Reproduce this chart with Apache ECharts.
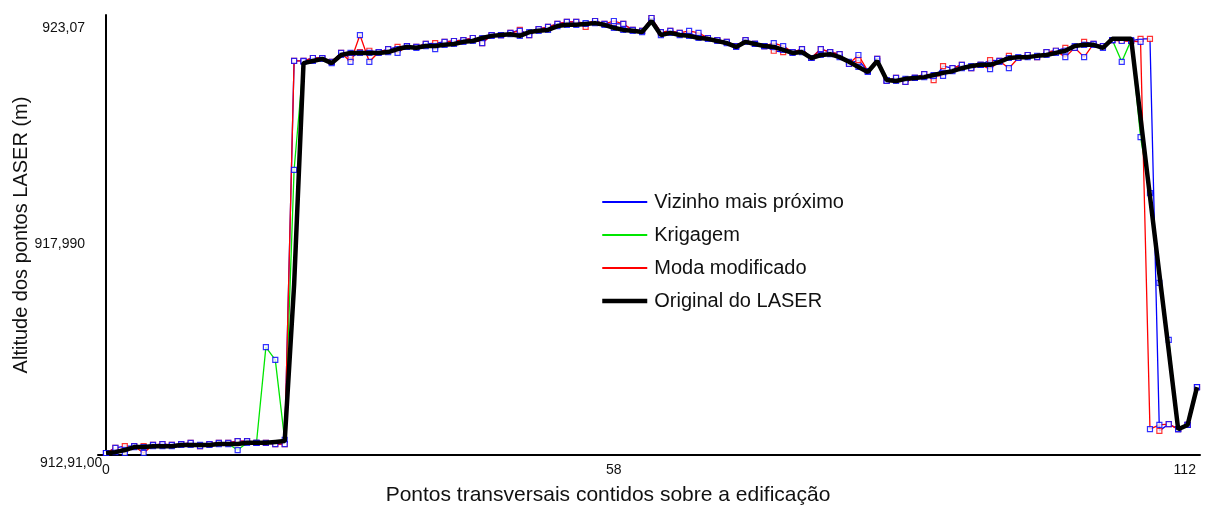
<!DOCTYPE html>
<html>
<head>
<meta charset="utf-8">
<title>Altitude dos pontos LASER</title>
<script src="https://cdn.jsdelivr.net/npm/echarts@6/dist/echarts.min.js"></script>
<style>
  html, body { margin: 0; padding: 0; background: #fff; }
  #chart { width: 1208px; height: 509px; }
</style>
</head>
<body>
<div id="chart"></div>
<script>
  var original = [
    912.91, 912.93, 912.98, 913.05, 913.05, 913.07, 913.07, 913.07, 913.10, 913.10,
    913.10, 913.10, 913.12, 913.12, 913.12, 913.15, 913.15, 913.15, 913.17, 913.19,
    916.86, 922.08, 922.13, 922.18, 922.08, 922.27, 922.32, 922.32, 922.32, 922.32,
    922.34, 922.41, 922.46, 922.44, 922.48, 922.48, 922.51, 922.53, 922.58, 922.60,
    922.67, 922.72, 922.74, 922.76, 922.72, 922.81, 922.84, 922.86, 922.95, 922.98,
    922.98, 923.00, 923.02, 922.98, 922.91, 922.86, 922.84, 922.81, 923.07, 922.74,
    922.79, 922.74, 922.72, 922.67, 922.65, 922.60, 922.55, 922.46, 922.58, 922.53,
    922.48, 922.46, 922.39, 922.32, 922.34, 922.20, 922.27, 922.29, 922.22, 922.11,
    921.99, 921.87, 922.13, 921.68, 921.66, 921.71, 921.73, 921.75, 921.80, 921.85,
    921.89, 921.96, 922.01, 922.04, 922.04, 922.11, 922.20, 922.22, 922.22, 922.25,
    922.27, 922.32, 922.37, 922.48, 922.51, 922.51, 922.44, 922.65, 922.65, 922.65,
    920.79, 918.95, 917.12, 915.31, 913.47, 913.57, 914.46
  ]
  var vizinho = [
    912.91, 913.03, 913.07, 913.07, 913.07, 913.10, 913.12, 913.10, 913.12, 913.15,
    913.07, 913.12, 913.15, 913.15, 913.19, 913.19, 913.15, 913.15, 913.12, 913.12,
    922.13, 922.13, 922.20, 922.20, 922.11, 922.32, 922.20, 922.34, 922.37, 922.34,
    922.41, 922.46, 922.48, 922.46, 922.53, 922.55, 922.58, 922.60, 922.62, 922.67,
    922.55, 922.74, 922.74, 922.79, 922.86, 922.74, 922.88, 922.93, 923.00, 923.05,
    923.05, 922.93, 923.07, 923.00, 923.00, 923.00, 922.86, 922.84, 923.14, 922.81,
    922.84, 922.79, 922.76, 922.72, 922.67, 922.62, 922.58, 922.48, 922.62, 922.53,
    922.48, 922.37, 922.34, 922.34, 922.41, 922.20, 922.41, 922.34, 922.29, 922.06,
    922.15, 921.89, 922.18, 921.66, 921.73, 921.64, 921.73, 921.82, 921.68, 922.01,
    921.96, 922.04, 921.96, 922.04, 922.15, 922.13, 922.25, 922.20, 922.27, 922.22,
    922.34, 922.37, 922.44, 922.44, 922.58, 922.53, 922.48, 922.62, 922.62, 922.60,
    922.65, 922.65, 913.43, 913.59, 913.47, 913.57, 914.46
  ]
  var krigagem = [
    912.91, 912.93, 912.98, 913.05, 913.05, 913.07, 913.07, 913.07, 913.10, 913.10,
    913.10, 913.10, 913.12, 913.12, 912.98, 913.15, 913.15, 915.40, 915.10, 913.22,
    919.57, 922.11, 922.13, 922.18, 922.08, 922.27, 922.32, 922.32, 922.32, 922.32,
    922.34, 922.41, 922.46, 922.44, 922.48, 922.48, 922.51, 922.53, 922.58, 922.60,
    922.67, 922.72, 922.74, 922.76, 922.72, 922.81, 922.84, 922.86, 922.95, 922.98,
    922.98, 923.00, 923.02, 922.98, 922.91, 922.86, 922.84, 922.81, 923.07, 922.74,
    922.79, 922.74, 922.72, 922.67, 922.65, 922.60, 922.55, 922.46, 922.58, 922.53,
    922.48, 922.46, 922.39, 922.32, 922.34, 922.20, 922.27, 922.29, 922.22, 922.11,
    921.99, 921.87, 922.13, 921.68, 921.66, 921.71, 921.73, 921.75, 921.80, 921.85,
    921.89, 921.96, 922.01, 922.04, 922.04, 922.11, 922.20, 922.22, 922.22, 922.25,
    922.27, 922.32, 922.37, 922.48, 922.51, 922.51, 922.44, 922.62, 922.11, 922.62,
    920.34, 919.02, 916.91, 915.57, 913.47, 913.57, 914.46
  ]
  var moda = [
    912.91, 913.03, 912.91, 913.07, 912.91, 913.10, 913.12, 913.10, 913.12, 913.15,
    913.07, 913.12, 913.15, 913.15, 913.19, 913.19, 913.15, 913.15, 913.12, 913.12,
    922.13, 922.13, 922.20, 922.20, 922.11, 922.32, 922.11, 922.74, 922.11, 922.34,
    922.41, 922.32, 922.48, 922.46, 922.53, 922.41, 922.58, 922.60, 922.62, 922.67,
    922.55, 922.74, 922.74, 922.79, 922.84, 922.74, 922.88, 922.93, 923.00, 923.05,
    923.05, 923.02, 923.07, 923.00, 923.07, 923.00, 922.86, 922.84, 923.14, 922.81,
    922.84, 922.79, 922.84, 922.79, 922.67, 922.62, 922.58, 922.48, 922.62, 922.53,
    922.48, 922.55, 922.48, 922.34, 922.41, 922.20, 922.41, 922.34, 922.29, 922.06,
    922.27, 921.89, 922.18, 921.66, 921.73, 921.64, 921.73, 921.82, 921.78, 921.78,
    921.96, 922.04, 921.96, 922.04, 921.94, 922.13, 921.96, 922.20, 922.27, 922.22,
    922.34, 922.37, 922.22, 922.44, 922.22, 922.53, 922.48, 922.62, 922.60, 922.60,
    922.58, 913.47, 913.57, 913.59, 913.47, 913.57, 914.46
  ]

  var yTickValues = [912.91, 917.99, 923.07]
  var yTickText = ['912,91,00', '917,990', '923,07']
  var xTickText = ['0', '58', '112']
  var xTickAt = [0, 54, 114.7]

  var FONT = 'Liberation Sans, Arial, sans-serif'

  function pairs(arr) {
    return arr.map(function (v, i) { return [i, v] })
  }
  function nearest(keys, v) {
    var best = 0
    for (var i = 1; i < keys.length; i++) {
      if (Math.abs(keys[i] - v) < Math.abs(keys[best] - v)) best = i
    }
    return best
  }
  function lineSeries(name, data, color, width, z) {
    return {
      name: name, type: 'line', data: pairs(data), z: z,
      symbol: 'none',
      lineStyle: { color: color, width: width },
      itemStyle: { color: color }
    }
  }
  function markSeries(name, data, color, z) {
    return {
      name: name, type: 'scatter', data: pairs(data), z: z,
      symbol: 'rect', symbolSize: 5,
      itemStyle: { color: '#fff', borderColor: color, borderWidth: 1.2 }
    }
  }

  var myChart = echarts.init(document.getElementById('chart'))
  var option = {
    animation: false,
    backgroundColor: '#fff',
    grid: { left: 98, right: 8, top: 15, bottom: 54, containLabel: false, outerBoundsMode: 'none' },
    legend: {
      orient: 'vertical',
      left: 595,
      top: 187,
      itemWidth: 45,
      itemHeight: 14,
      itemGap: 13,
      itemStyle: { opacity: 0 },
      data: [
        { name: 'Vizinho mais próximo', lineStyle: { width: 2 } },
        { name: 'Krigagem', lineStyle: { width: 2 } },
        { name: 'Moda modificado', lineStyle: { width: 2 } },
        { name: 'Original do LASER', lineStyle: { width: 4.5 } }
      ],
      textStyle: { fontFamily: FONT, fontSize: 20, color: '#111', padding: [0, 0, 0, 2] }
    },
    xAxis: {
      type: 'value',
      min: -0.85,
      max: 116.32,
      name: 'Pontos transversais contidos sobre a edificação',
      nameLocation: 'middle',
      nameGap: 30,
      nameMoveOverlap: false,
      nameTextStyle: { fontFamily: FONT, fontSize: 21, color: '#111', padding: [0, 82, 0, 0] },
      axisLine: { show: true, lineStyle: { color: '#000', width: 2 } },
      axisTick: { show: false },
      splitLine: { show: false },
      axisLabel: {
        customValues: xTickAt,
        margin: 8,
        fontFamily: FONT, fontSize: 14, color: '#111',
        formatter: function (v) { return xTickText[nearest(xTickAt, v)] }
      }
    },
    yAxis: {
      type: 'value',
      min: 912.863,
      max: 923.211,
      name: 'Altitude dos pontos LASER (m)',
      nameLocation: 'middle',
      nameGap: 67,
      nameMoveOverlap: false,
      nameTextStyle: { fontFamily: FONT, fontSize: 20, color: '#111' },
      axisLine: { show: true, lineStyle: { color: '#000', width: 2 } },
      axisTick: { show: false },
      splitLine: { show: false },
      axisLabel: {
        customValues: yTickValues,
        margin: 13,
        verticalAlign: 'top',
        fontFamily: FONT, fontSize: 14, color: '#111',
        formatter: function (v) {
          var k = nearest(yTickValues, v)
          // o rótulo da base invade o eixo, como no original
          return k === 0 ? '{base|' + yTickText[k] + '}' : yTickText[k]
        },
        rich: {
          base: { width: 45, align: 'left', overflow: 'none', padding: [3, 0, 0, 0], fontFamily: FONT, fontSize: 14, color: '#111' }
        }
      }
    },
    series: [
      lineSeries('Vizinho mais próximo', vizinho, '#0000ff', 1.3, 2),
      lineSeries('Krigagem', krigagem, '#00e600', 1.3, 3),
      lineSeries('Moda modificado', moda, '#ff0000', 1.3, 4),
      markSeries('pontos vizinho', vizinho, '#ff0000', 5),
      markSeries('pontos krigagem', krigagem, '#0000ff', 6),
      markSeries('pontos moda', moda, '#0000ff', 7),
      lineSeries('Original do LASER', original, '#000000', 4.5, 8)
    ]
  }
  myChart.setOption(option)
</script>
</body>
</html>
